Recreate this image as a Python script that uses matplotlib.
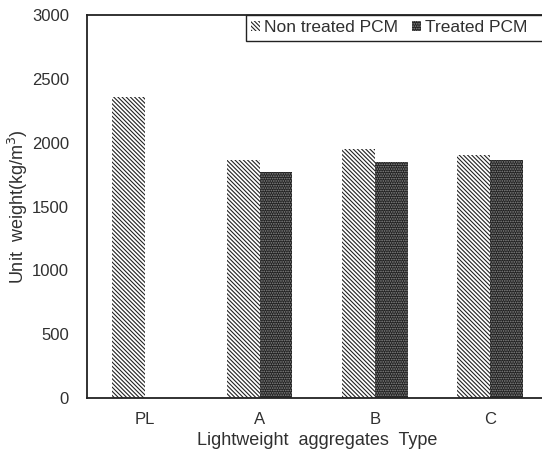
import numpy as np
import matplotlib.pyplot as plt
from matplotlib.patches import Rectangle

plt.rcParams['font.family'] = ['Liberation Sans', 'DejaVu Sans']
plt.rcParams['hatch.linewidth'] = 0.8

types = ['PL', 'A', 'B', 'C']
non_treated = [2355, 1865, 1950, 1905]
treated = [np.nan, 1770, 1850, 1865]

x = np.arange(len(types))
w = 0.285
txt = '#303030'

fig = plt.figure(figsize=(5.42, 4.55), dpi=100)
ax = fig.add_axes([87/542, 57/455, 1.01 - 87/542, (398-15)/455])

ax.bar(x - w/2, non_treated, w, color='white', edgecolor='#222222',
       hatch='\\\\\\\\\\\\\\\\', linewidth=0, label='Non treated PCM')
ax.bar(x + w/2, treated, w, color='#222222', edgecolor='#8a8a8a',
       hatch='.......', linewidth=0, label='Treated PCM')

ax.set_xlim(-0.5, 3.5)
ax.set_ylim(0, 3000)
ax.set_yticks(np.arange(0, 3001, 500))
ax.set_xticks(x)
ax.set_xticklabels(types)
ax.tick_params(length=0, labelsize=12, colors=txt)
ax.tick_params(axis='y', pad=13)
ax.tick_params(axis='x', pad=10)
ax.spines['right'].set_visible(False)
for s in ['left', 'bottom', 'top']:
    ax.spines[s].set_linewidth(1.3)
    ax.spines[s].set_color('#222222')

ax.set_xlabel('Lightweight  aggregates  Type', fontsize=13, labelpad=4, color=txt)
ax.set_ylabel('Unit  weight(kg/m$^3$)', fontsize=13, labelpad=1, color=txt)

# legend box runs off the right edge of the figure
box = Rectangle((0.345, 0.932), 0.7, 0.068, transform=ax.transAxes,
                facecolor='white', edgecolor='#222222', linewidth=1.0,
                clip_on=False, zorder=4)
ax.add_patch(box)
leg = ax.legend(loc='upper left', bbox_to_anchor=(0.345, 1.0), ncol=2,
                fontsize=12.5, frameon=False, borderaxespad=0,
                handlelength=0.5, handleheight=0.5, handletextpad=0.25,
                columnspacing=0.8, borderpad=0.3)
leg.set_zorder(5)
for t in leg.get_texts():
    t.set_color(txt)

fig.savefig('out.png', dpi=100)
